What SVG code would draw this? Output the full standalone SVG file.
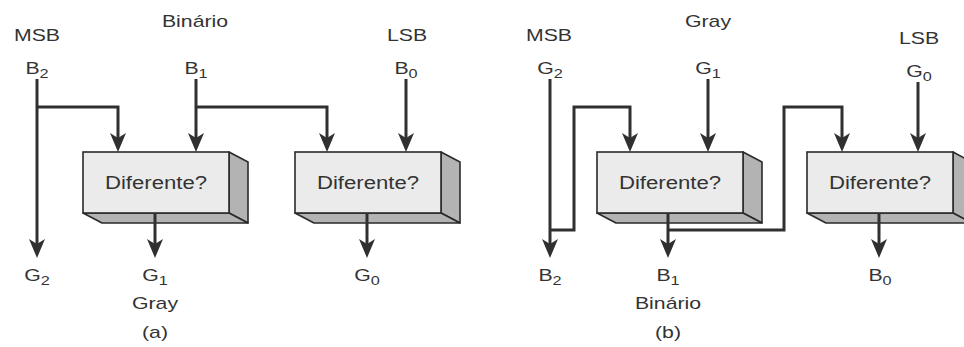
<svg xmlns="http://www.w3.org/2000/svg" width="964" height="347" viewBox="0 0 964 347">
<style>
text{font-family:"Liberation Sans",Arial,sans-serif;fill:#333333;text-anchor:middle}
.lbl{font-size:17px}
.sub{font-size:13px}
.box{font-size:18px}
.front{fill:#ebebeb;stroke:#2a2a2a;stroke-width:1.6}
.side{fill:#b3b3b3;stroke:#2a2a2a;stroke-width:1.6;stroke-linejoin:round}
.wire{fill:none;stroke:#303030;stroke-width:3;stroke-linejoin:miter}
.arr{marker-end:url(#ah)}
</style>
<defs>
<marker id="ah" viewBox="-10 -9 22 18" refX="0" refY="0" markerWidth="22" markerHeight="18" markerUnits="userSpaceOnUse" orient="auto">
<path d="M-9,-8 L10,0 L-9,8 L-4,0 Z" fill="#303030"/>
</marker>
<g id="blk">
<polygon class="side" points="146,0 165,10 165,71 146,61"/>
<polygon class="side" points="0,61 19,71 165,71 146,61"/>
<rect class="front" x="0" y="0" width="146" height="61"/>
</g>
</defs>
<rect width="964" height="347" fill="#ffffff"/>

<!-- Panel (a) nodes -->
<g id="a-xor1">
<use href="#blk" x="83" y="152"/>
<text class="box" transform="translate(156,189) scale(1.23,1)">Diferente?</text>
</g>
<g id="a-xor0">
<use href="#blk" x="295" y="152"/>
<text class="box" transform="translate(368,189) scale(1.23,1)">Diferente?</text>
</g>

<!-- Panel (b) nodes -->
<g id="b-xor1">
<use href="#blk" x="597" y="152"/>
<text class="box" transform="translate(670,189) scale(1.23,1)">Diferente?</text>
</g>
<g id="b-xor0">
<use href="#blk" x="807" y="152"/>
<text class="box" transform="translate(880,189) scale(1.23,1)">Diferente?</text>
</g>

<!-- Connectors -->
<g id="connectors">
<path class="wire arr" d="M37,79 V248"/>
<path class="wire arr" d="M37,107 H118 V142"/>
<path class="wire arr" d="M196,79 V142"/>
<path class="wire arr" d="M196,107 H327 V142"/>
<path class="wire arr" d="M406,79 V142"/>
<path class="wire arr" d="M155,213 V248"/>
<path class="wire arr" d="M367,213 V248"/>

<path class="wire arr" d="M550,79 V248"/>
<path class="wire arr" d="M550,230 H574 V107 H630 V142"/>
<path class="wire arr" d="M708,79 V142"/>
<path class="wire arr" d="M668,213 V248"/>
<path class="wire arr" d="M668,230 H784 V107 H842 V142"/>
<path class="wire arr" d="M918,82 V142"/>
<path class="wire arr" d="M879,213 V248"/>
</g>

<!-- Panel (a) labels -->
<g id="a-labels">
<text class="lbl" transform="translate(37,41) scale(1.25,1)">MSB</text>
<text class="lbl" transform="translate(37,74) scale(1.25,1)">B<tspan class="sub" dy="4">2</tspan></text>
<text class="lbl" transform="translate(195,27) scale(1.25,1)">Binário</text>
<text class="lbl" transform="translate(196,74) scale(1.25,1)">B<tspan class="sub" dy="4">1</tspan></text>
<text class="lbl" transform="translate(407,41) scale(1.25,1)">LSB</text>
<text class="lbl" transform="translate(406,74) scale(1.25,1)">B<tspan class="sub" dy="4">0</tspan></text>
<text class="lbl" transform="translate(37,281) scale(1.25,1)">G<tspan class="sub" dy="4">2</tspan></text>
<text class="lbl" transform="translate(155,281) scale(1.25,1)">G<tspan class="sub" dy="4">1</tspan></text>
<text class="lbl" transform="translate(155,309) scale(1.25,1)">Gray</text>
<text class="lbl" transform="translate(155,338) scale(1.25,1)">(a)</text>
<text class="lbl" transform="translate(367,281) scale(1.25,1)">G<tspan class="sub" dy="4">0</tspan></text>
</g>

<!-- Panel (b) labels -->
<g id="b-labels">
<text class="lbl" transform="translate(549,41) scale(1.25,1)">MSB</text>
<text class="lbl" transform="translate(550,74) scale(1.25,1)">G<tspan class="sub" dy="4">2</tspan></text>
<text class="lbl" transform="translate(708,27) scale(1.25,1)">Gray</text>
<text class="lbl" transform="translate(708,74) scale(1.25,1)">G<tspan class="sub" dy="4">1</tspan></text>
<text class="lbl" transform="translate(919,44) scale(1.25,1)">LSB</text>
<text class="lbl" transform="translate(919,77) scale(1.25,1)">G<tspan class="sub" dy="4">0</tspan></text>
<text class="lbl" transform="translate(550,281) scale(1.25,1)">B<tspan class="sub" dy="4">2</tspan></text>
<text class="lbl" transform="translate(668,281) scale(1.25,1)">B<tspan class="sub" dy="4">1</tspan></text>
<text class="lbl" transform="translate(668,309) scale(1.25,1)">Binário</text>
<text class="lbl" transform="translate(668,338) scale(1.25,1)">(b)</text>
<text class="lbl" transform="translate(880,281) scale(1.25,1)">B<tspan class="sub" dy="4">0</tspan></text>
</g>
</svg>
